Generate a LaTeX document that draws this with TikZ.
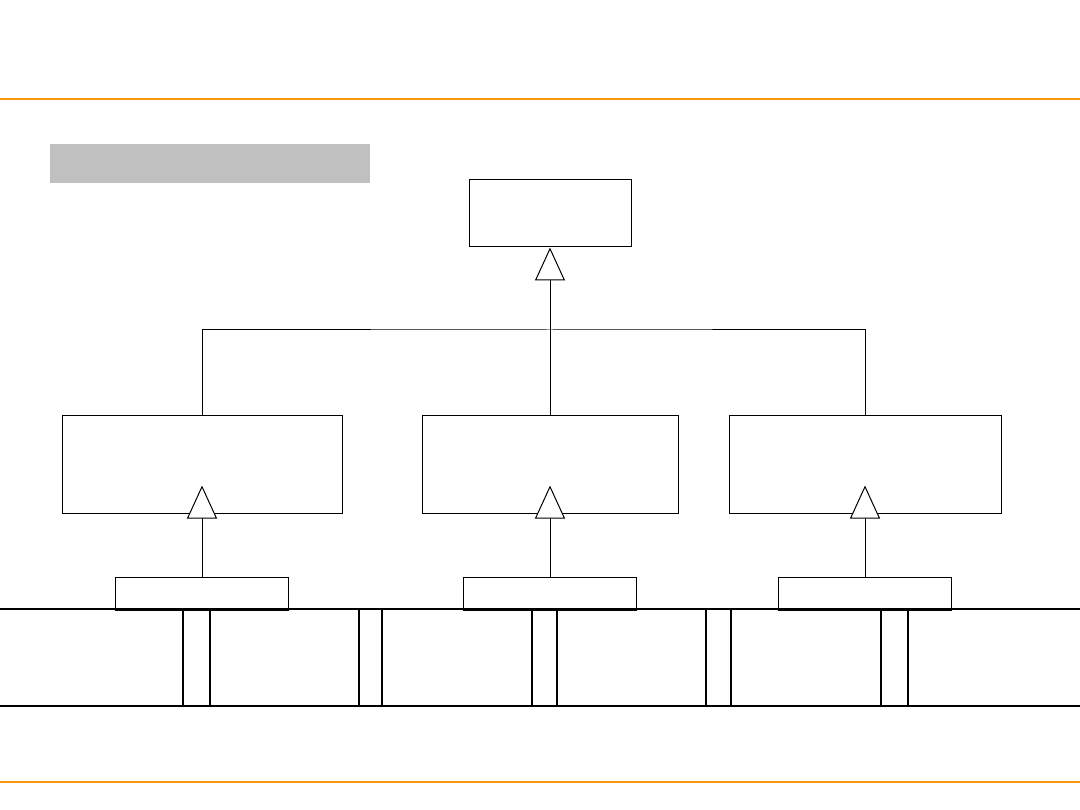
\documentclass[tikz,border=0pt]{standalone}
\usepackage{xcolor}
\usepackage{tikz}
\usetikzlibrary{arrows.meta, positioning}

\definecolor{rule}{RGB}{247,150,10}
\definecolor{banner}{RGB}{192,192,192}

\begin{document}
\begin{tikzpicture}[
    x=1pt, y=-1pt,
    node distance=63pt,
    cls/.style={draw, line width=1pt, inner sep=0pt},
    leaf/.style={draw, line width=1.5pt, inner sep=0pt, minimum width=173pt, minimum height=33pt},
    cell/.style={draw, line width=1.3pt, inner sep=0pt, minimum height=97pt},
    inherit/.style={line width=1pt, -{Triangle[width=30pt, length=33pt, fill=white]}},
]
    \useasboundingbox (0,0) rectangle (1080,810);

    % header / footer rules
    \draw[rule, line width=2pt] (0,99) -- (1080,99);
    \draw[rule, line width=2pt] (0,782) -- (1080,782);
    \node[fill=banner, minimum width=320pt, minimum height=39pt, inner sep=0pt] (title) at (210,163.5) {};

    % class tree
    \node[cls, minimum width=162pt, minimum height=67pt] (base) at (550,213.5) {};
    \node[cls, minimum width=280pt, minimum height=97pt] (left) at (202,464.5) {};
    \node[cls, minimum width=256pt, minimum height=97pt] (mid) at (550,464.5) {};
    \node[cls, minimum width=272pt, minimum height=97pt] (right) at (865,464.5) {};
    \coordinate (bus) at (550,330);

    \node[leaf, below=of left] (ls) {};
    \node[leaf, below=of mid] (ms) {};
    \node[leaf, below=of right] (rs) {};

    % bottom band
    \node[cell, minimum width=193pt] (c1) at (86.5,657.5) {};
    \node[cell, minimum width=149pt] (c2) at (284.5,657.5) {};
    \node[cell, minimum width=150pt] (c3) at (457,657.5) {};
    \node[cell, minimum width=149pt] (c4) at (631.5,657.5) {};
    \node[cell, minimum width=150pt] (c5) at (806,657.5) {};
    \node[cell, minimum width=182pt] (c6) at (999,657.5) {};
    \draw[line width=2pt] (0,609) -- (1080,609);
    \draw[line width=2pt] (0,706) -- (1080,706);

    \draw[line width=1pt] (left.north) |- (bus) -| (right.north);
    \draw[inherit] (mid.north) -- (base.south);
    \foreach \a/\b in {ls/left, ms/mid, rs/right}
        \draw[inherit] (\a.north) -- ([yshift=28pt]\b.south);
\end{tikzpicture}
\end{document}
